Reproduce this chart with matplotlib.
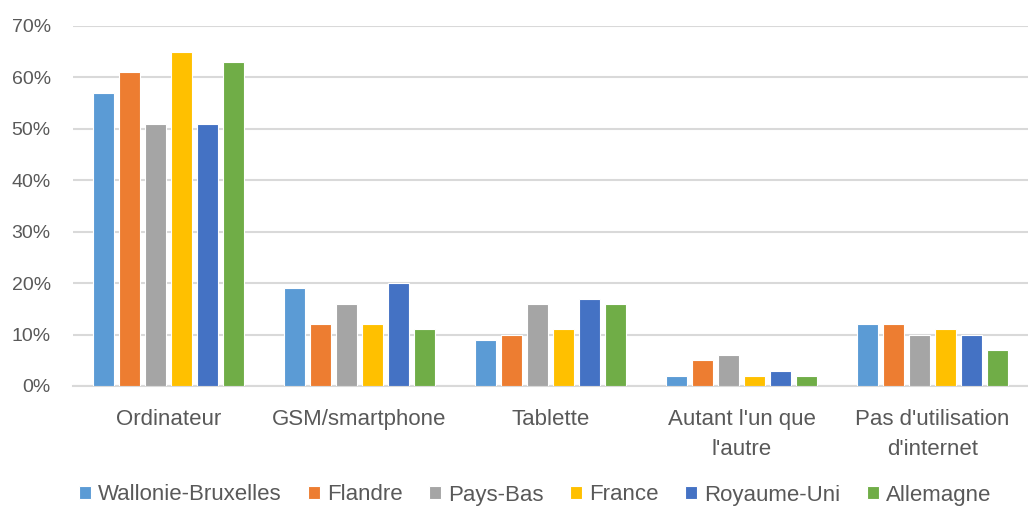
import matplotlib.pyplot as plt
import numpy as np
from matplotlib.ticker import FuncFormatter

plt.rcParams["font.family"] = ["Liberation Sans", "DejaVu Sans"]

categories = ["Ordinateur", "GSM/smartphone", "Tablette", "Autant l'un que\nl'autre", "Pas d'utilisation\nd'internet"]
series = ["Wallonie-Bruxelles", "Flandre", "Pays-Bas", "France", "Royaume-Uni", "Allemagne"]
wallonie = [57, 19, 9, 2, 12]
flandre = [61, 12, 10, 5, 12]
pays_bas = [51, 16, 16, 6, 10]
france = [65, 12, 11, 2, 11]
royaume_uni = [51, 20, 17, 3, 10]
allemagne = [63, 11, 16, 2, 7]
values = [wallonie, flandre, pays_bas, france, royaume_uni, allemagne]
colors = ["#5B9BD5", "#ED7D31", "#A5A5A5", "#FFC000", "#4472C4", "#70AD47"]

fig = plt.figure(figsize=(10.28, 5.09), dpi=100)
ax = fig.add_axes([73 / 1028, 1 - 386 / 509, 1 - 73 / 1028, 360 / 509])

x = np.arange(len(categories))
step = 26 / 191
width = 21 / 191
for i, (name, vals, col) in enumerate(zip(series, values, colors)):
    offs = (i - 2.5) * step
    ax.bar(x + offs, vals, width=width, color=col, edgecolor="white", linewidth=0.8, label=name, zorder=3)

ax.set_xlim(-0.5, len(categories) - 0.5)
ax.set_ylim(0, 70)
ax.set_yticks(range(0, 71, 10))
ax.yaxis.set_major_formatter(FuncFormatter(lambda v, p: f"{int(v)}%"))
ax.grid(axis="y", color="#D9D9D9", linewidth=1.5, zorder=0)
for s in ["top", "right", "left"]:
    ax.spines[s].set_visible(False)
ax.spines["bottom"].set_color("#D9D9D9")
ax.spines["bottom"].set_linewidth(1.5)
ax.tick_params(axis="y", length=0, labelsize=14, colors="#595959", pad=16)
ax.tick_params(axis="x", length=0, labelsize=16, colors="#595959", pad=16.5)
ax.set_xticks(x)
ax.set_xticklabels(categories, linespacing=1.55, va="top")

fig.legend(loc="center", bbox_to_anchor=(535 / 1028, 1 - 495 / 509), ncol=6, frameon=False,
           fontsize=16, labelcolor="#595959", handlelength=0.55, handleheight=0.55,
           handletextpad=0.3, columnspacing=1.2, borderpad=0.1)

fig.savefig("out.png", dpi=100)
